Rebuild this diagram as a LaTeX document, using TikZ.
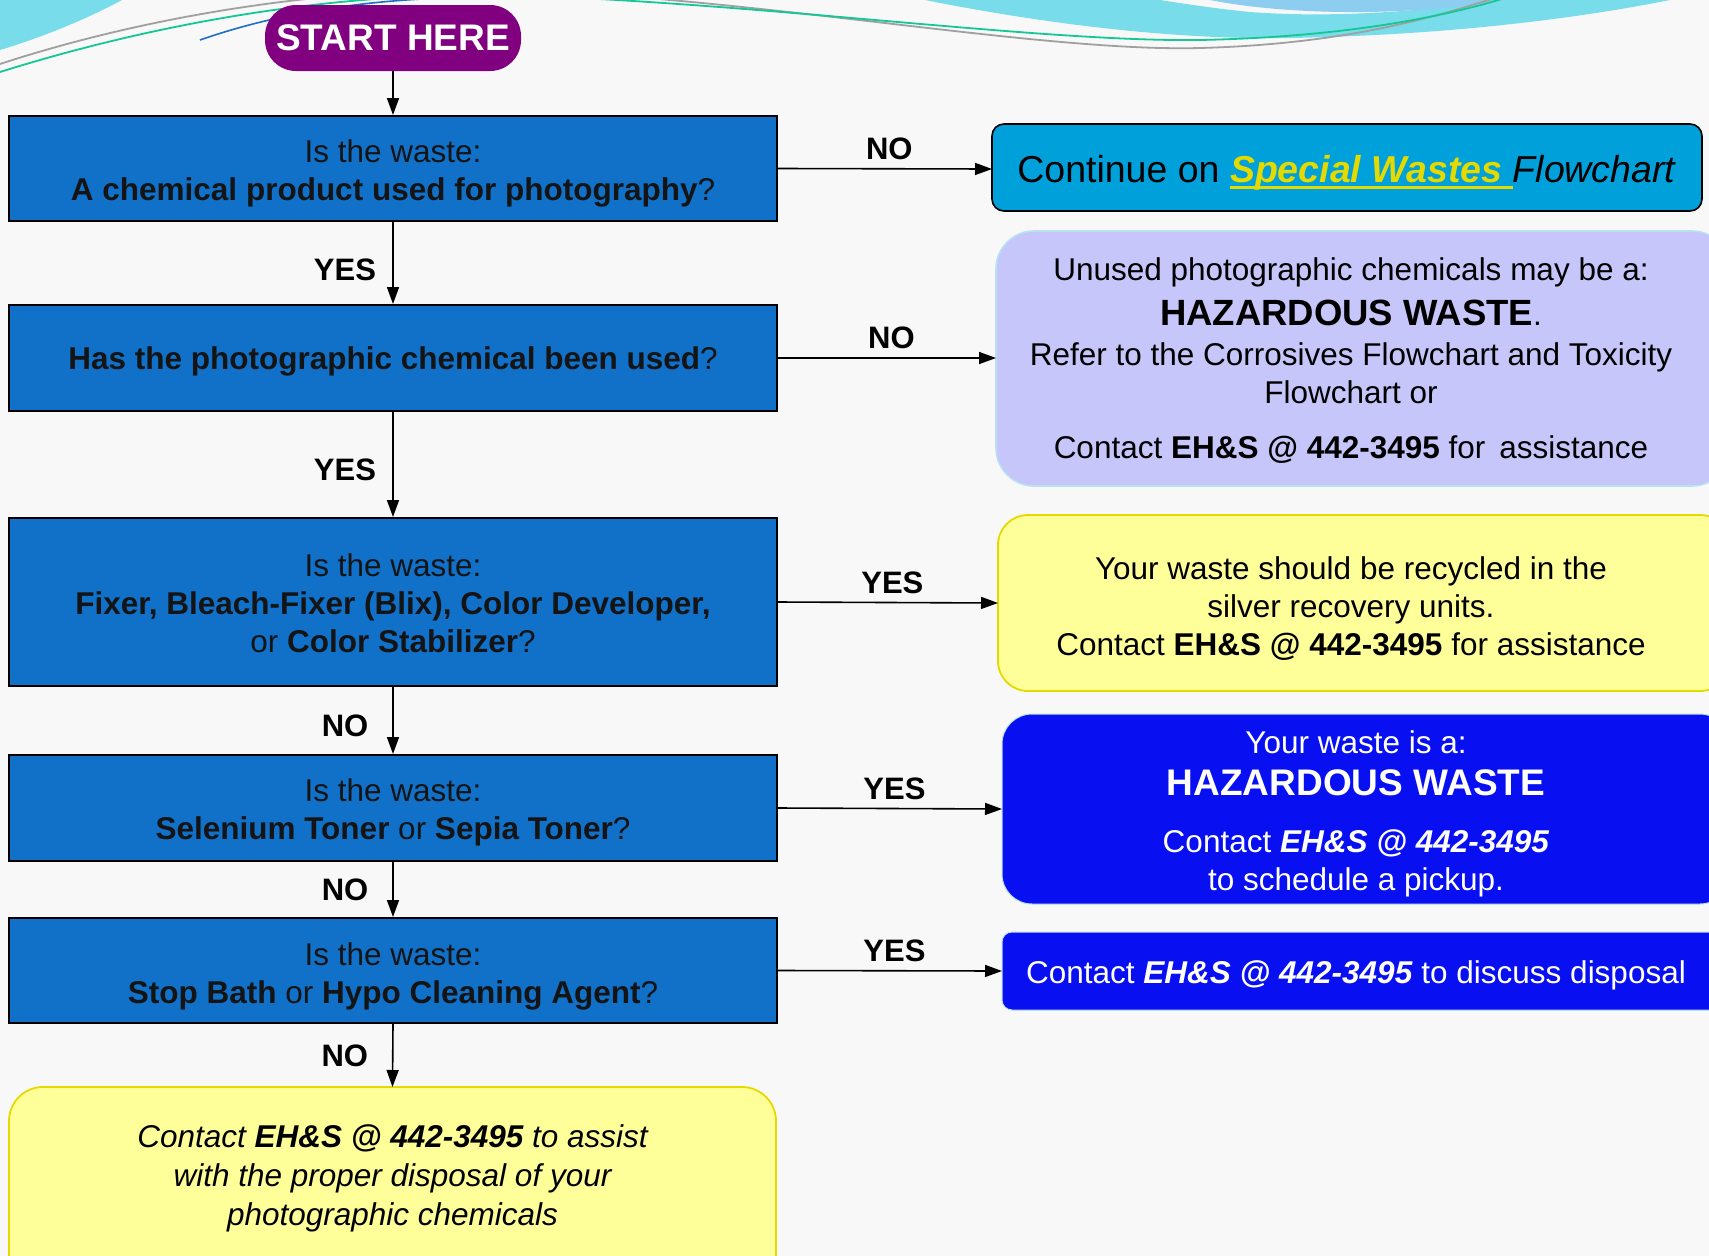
\documentclass[tikz,border=0pt]{standalone}
\usepackage{fontspec}
\setmainfont{Liberation Sans}
\usetikzlibrary{arrows.meta}
\definecolor{qblue}{RGB}{17,112,200}
\definecolor{cyanbox}{RGB}{0,160,218}
\definecolor{lav}{RGB}{198,198,250}
\definecolor{lavborder}{RGB}{185,225,242}
\definecolor{yel}{RGB}{255,255,153}
\definecolor{yelborder}{RGB}{228,218,0}
\definecolor{bblue}{RGB}{8,16,242}
\definecolor{startpurple}{RGB}{128,0,128}
\definecolor{swyellow}{RGB}{228,218,0}
\definecolor{bgcol}{RGB}{248,248,248}
\definecolor{wavecyan}{RGB}{120,220,235}
\definecolor{wavelight}{RGB}{140,205,240}
\definecolor{linegreen}{RGB}{20,200,150}
\definecolor{linegray}{RGB}{160,160,160}
\definecolor{lineblue}{RGB}{30,110,200}
\newcommand\thickul[1]{\setbox0\hbox{#1}\rlap{\rule[-6pt]{\wd0}{2.6pt}}\box0}
\newcommand\dn[1]{\rule{0pt}{#1}}
\begin{document}
\begin{tikzpicture}[x=1pt,y=-1pt,
  txt/.style={font=\fontsize{31.5}{38}\selectfont},
  qbox/.style={txt, rectangle, fill=qblue, draw=black, line width=2pt,
    minimum width=768pt, align=center, text=black!92},
  lbl/.style={font=\bfseries\fontsize{31}{36}\selectfont, inner sep=2pt},
  vlbl/.style={lbl, xshift=-48pt},
  hlbl/.style={lbl, above=6pt, pos=0.52},
  arr/.style={-{Triangle[length=17pt,width=12pt]}, line width=1.6pt, black},
  startn/.style={rectangle, rounded corners=31pt, fill=startpurple, text=white,
    font=\bfseries\fontsize{37}{40}\selectfont, minimum width=256pt, minimum height=66pt, inner sep=0pt},
  rbox/.style={txt, align=center, inner sep=0pt}
]
\useasboundingbox (0,0) rectangle (1709,1256);
\clip (0,0) rectangle (1709,1256);
\fill[bgcol] (0,0) rectangle (1709,1256);

% decorative waves
\fill[wavecyan] (0,0) -- (122,0) .. controls (85,20) and (40,38) .. (0,50) -- cycle;
\fill[wavecyan] (925,0) .. controls (1050,25) and (1180,40) .. (1290,38)
   .. controls (1450,35) and (1580,18) .. (1670,0) -- (1500,0)
   .. controls (1420,12) and (1330,18) .. (1250,12) .. controls (1210,8) and (1180,3) .. (1160,0) -- cycle;
\fill[wavelight] (1210,0) .. controls (1280,14) and (1400,18) .. (1504,0) -- cycle;
\draw[linegray, line width=1.8pt] (0,64) .. controls (150,15) and (350,-20) .. (560,-8)
   .. controls (800,5) and (1050,52) .. (1200,48) .. controls (1350,44) and (1440,15) .. (1495,-2);
\draw[linegreen, line width=1.8pt] (0,72) .. controls (150,25) and (350,-15) .. (560,-3)
   .. controls (800,8) and (1050,42) .. (1200,40) .. controls (1350,37) and (1450,15) .. (1505,-2);
\draw[lineblue, line width=1.6pt] (200,40) .. controls (300,5) and (420,-8) .. (560,-1);

% start
\node[startn] (start) at (393,38) {START HERE};

% question boxes
\node[qbox, minimum height=105pt] (q1) at (393,168.5)
  {\dn{32pt}Is the waste:\\ \textbf{A chemical product used for photography}?};
\node[qbox, minimum height=106pt] (q2) at (393,358)
  {\dn{29pt}\textbf{Has the photographic chemical been used}?};
\node[qbox, minimum height=168pt] (q3) at (393,602)
  {\dn{25pt}Is the waste:\\ \textbf{Fixer, Bleach-Fixer (Blix), Color Developer,}\\ or \textbf{Color Stabilizer}?};
\node[qbox, minimum height=106pt] (q4) at (393,808)
  {\dn{32pt}Is the waste:\\ \textbf{Selenium Toner} or \textbf{Sepia Toner}?};
\node[qbox, minimum height=105pt] (q5) at (393,970.5)
  {\dn{34pt}Is the waste:\\ \textbf{Stop Bath} or \textbf{Hypo Cleaning Agent}?};

% bottom yellow box
\draw[fill=yel, draw=yelborder, line width=1.8pt, rounded corners=34pt] (9,1087) rectangle (776,1300);
\node[rbox, font=\itshape\fontsize{31.5}{39}\selectfont] (q6) at (392.5,1178.5)
  {Contact \textbf{EH\&S @ 442-3495} to assist\\ with the proper disposal of your\\ photographic chemicals};
\coordinate (q6top) at (392.5,1087);

% right boxes
\draw[fill=cyanbox, draw=black, line width=1.6pt, rounded corners=12pt] (992,124) rectangle (1702,211);
\node[rbox, font=\fontsize{37.5}{40}\selectfont] (r1) at (1347,173)
  {Continue on \textcolor{swyellow}{\thickul{\bfseries\itshape Special Wastes }}\textit{Flowchart}};
\coordinate (r1w) at (992,169);

\draw[fill=lav, draw=lavborder, line width=1.6pt, rounded corners=38pt] (996,231) rectangle (1730,486);
\node[rbox] (r2) at (1351,360.75)
  {Unused photographic chemicals may be a:\\[6.5pt]
   {\bfseries\fontsize{36.5}{40}\selectfont HAZARDOUS WASTE}.\\[2pt]
   Refer to the Corrosives Flowchart and Toxicity\\
   Flowchart or\\[17pt]
   Contact \textbf{EH\&S @ 442-3495} for\, assistance};
\coordinate (r2w) at (996,358);

\draw[fill=yel, draw=yelborder, line width=1.8pt, rounded corners=30pt] (998,515) rectangle (1730,691);
\node[rbox] (r3) at (1351,608.5)
  {Your waste should be recycled in the\\ silver recovery units.\\ Contact \textbf{EH\&S @ 442-3495} for assistance};
\coordinate (r3w) at (998,603);

\draw[fill=bblue, draw=lavborder, line width=1pt, rounded corners=30pt] (1002,714) rectangle (1730,904);
\node[rbox, text=white] (r4) at (1356,813.8)
  {Your waste is a:\\[4.3pt]
   {\bfseries\fontsize{37}{40}\selectfont HAZARDOUS WASTE}\\[18.4pt]
   Contact \textbf{\textit{EH\&S @ 442-3495}}\\ to schedule a pickup.};
\coordinate (r4w) at (1002,809);

\draw[fill=bblue, draw=lavborder, line width=1pt, rounded corners=10pt] (1002,932) rectangle (1730,1010);
\node[rbox, text=white] (r5) at (1356,975)
  {Contact \textbf{\textit{EH\&S @ 442-3495}} to discuss disposal};
\coordinate (r5w) at (1002,971);

% vertical connectors
\draw[arr] (start.south) -- (q1.north);
\draw[arr] (q1.south) -- node[vlbl, pos=0.58] {YES} (q2.north);
\draw[arr] (q2.south) -- node[vlbl, pos=0.55] {YES} (q3.north);
\draw[arr] (q3.south) -- node[vlbl, pos=0.58] {NO} (q4.north);
\draw[arr] (q4.south) -- node[vlbl, pos=0.5] {NO} (q5.north);
\draw[arr] (q5.south) -- node[vlbl, pos=0.5] {NO} (q6top);

% horizontal connectors
\draw[arr] (q1.east) -- node[hlbl] {NO} (r1w);
\draw[arr] (q2.east) -- node[hlbl] {NO} (r2w);
\draw[arr] (q3.east) -- node[hlbl] {YES} (r3w);
\draw[arr] (q4.east) -- node[hlbl] {YES} (r4w);
\draw[arr] (q5.east) -- node[hlbl] {YES} (r5w);
\end{tikzpicture}
\end{document}
